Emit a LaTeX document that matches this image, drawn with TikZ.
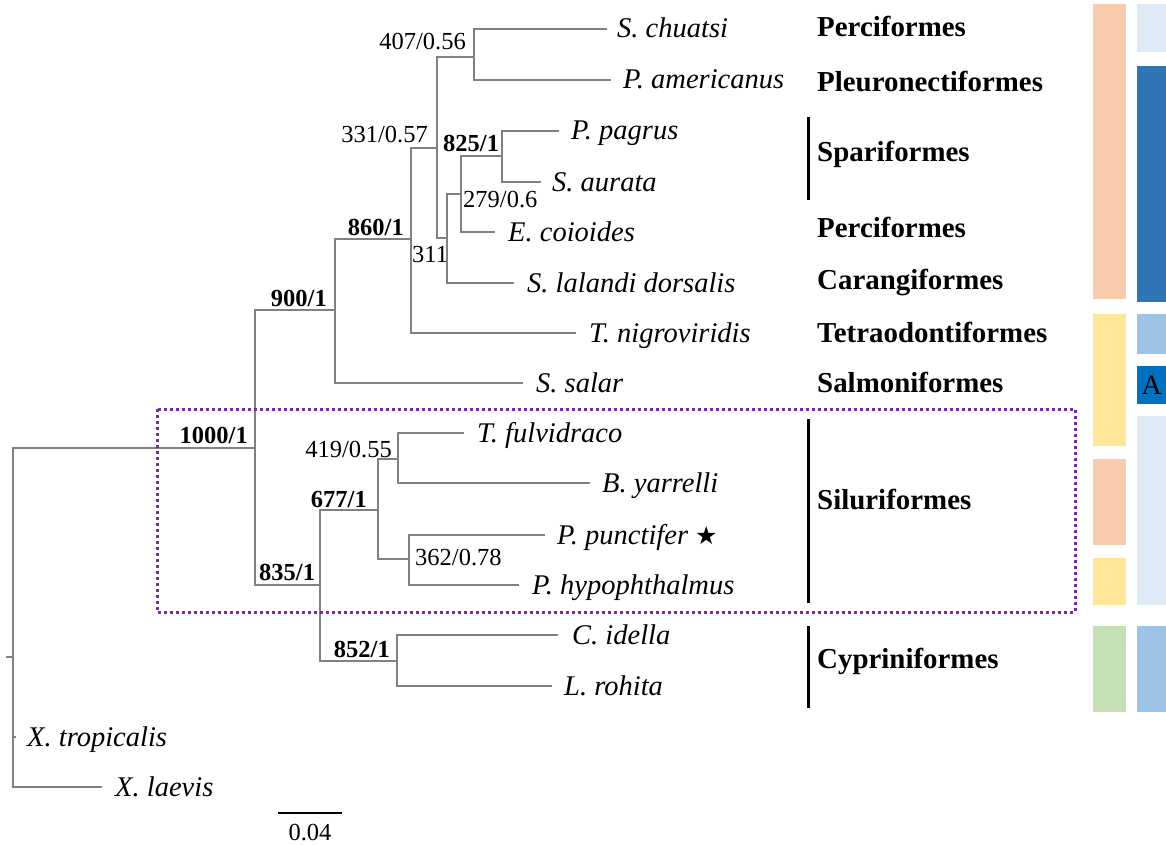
\documentclass[tikz,border=0pt]{standalone}
\usepackage{fontspec}
\setmainfont{Liberation Serif}
\newfontfamily\symfont{DejaVu Sans}
\definecolor{branchgray}{RGB}{128,128,128}
\definecolor{boxpurple}{RGB}{112,48,160}
\definecolor{peach}{RGB}{248,203,173}
\definecolor{sand}{RGB}{255,230,153}
\definecolor{leafgreen}{RGB}{197,224,180}
\definecolor{paleblue}{RGB}{222,235,247}
\definecolor{deepblue}{RGB}{46,117,182}
\definecolor{midblue}{RGB}{157,195,230}
\definecolor{aboxblue}{RGB}{0,112,192}
\begin{document}
\begin{tikzpicture}[x=1pt,y=-1pt,
  branch/.style={draw=branchgray, line width=1.8pt, line cap=rect},
  sp/.style={anchor=base west, inner sep=0pt, font=\fontsize{28.5}{30}\selectfont\itshape},
  ord/.style={anchor=base west, inner sep=0pt, font=\fontsize{28.9}{30}\selectfont\bfseries},
  suplab/.style={inner sep=0pt, font=\fontsize{24.5}{26}\selectfont},
  bsuplab/.style={inner sep=0pt, font=\fontsize{24.5}{26}\selectfont\bfseries},
  bracket/.style={draw=black, line width=3pt},
  bar/.style={draw=none}]
\useasboundingbox (0,0) rectangle (1166,845);

% internal nodes
\coordinate (root) at (13,657);
\coordinate (rootstub) at (7,657);
\coordinate (F) at (255,448);
\coordinate (N900) at (335,310);
\coordinate (N860) at (411,239);
\coordinate (N331) at (437,148);
\coordinate (N407) at (474,57);
\coordinate (N311) at (447,238);
\coordinate (N279) at (461,194);
\coordinate (N825) at (502,156);
\coordinate (N835) at (320,585);
\coordinate (N677) at (378,510);
\coordinate (N419) at (398,459);
\coordinate (N362) at (409,559);
\coordinate (N852) at (397,661);
% tips
\coordinate (tSchu) at (606,29);
\coordinate (tPame) at (610,80);
\coordinate (tPpag) at (558,131);
\coordinate (tSaur) at (540,182);
\coordinate (tEcoi) at (494,232);
\coordinate (tSlal) at (513,283);
\coordinate (tTnig) at (575,333);
\coordinate (tSsal) at (522,383);
\coordinate (tTful) at (463,433);
\coordinate (tByar) at (589,483);
\coordinate (tPpun) at (544,535);
\coordinate (tPhyp) at (518,585);
\coordinate (tCide) at (557,635);
\coordinate (tLroh) at (551,686);
\coordinate (tXtro) at (15,737);
\coordinate (tXlae) at (101,787);

% branches
\draw[branch] (rootstub) -- (root);
\draw[branch] (root) |- (F);
\draw[branch] (root) |- (tXtro);
\draw[branch] (root) |- (tXlae);
\draw[branch] (F) |- (N900);
\draw[branch] (F) |- (N835);
\draw[branch] (N900) |- (N860);
\draw[branch] (N900) |- (tSsal);
\draw[branch] (N860) |- (N331);
\draw[branch] (N860) |- (tTnig);
\draw[branch] (N331) |- (N407);
\draw[branch] (N331) |- (N311);
\draw[branch] (N407) |- (tSchu);
\draw[branch] (N407) |- (tPame);
\draw[branch] (N311) |- (N279);
\draw[branch] (N311) |- (tSlal);
\draw[branch] (N279) |- (N825);
\draw[branch] (N279) |- (tEcoi);
\draw[branch] (N825) |- (tPpag);
\draw[branch] (N825) |- (tSaur);
\draw[branch] (N835) |- (N677);
\draw[branch] (N835) |- (N852);
\draw[branch] (N677) |- (N419);
\draw[branch] (N677) |- (N362);
\draw[branch] (N419) |- (tTful);
\draw[branch] (N419) |- (tByar);
\draw[branch] (N362) |- (tPpun);
\draw[branch] (N362) |- (tPhyp);
\draw[branch] (N852) |- (tCide);
\draw[branch] (N852) |- (tLroh);

% support values
\node[suplab, anchor=base east] (s407) at (466,50) {407/0.56};
\node[suplab, anchor=base east] (s331) at (428,143) {331/0.57};
\node[bsuplab, anchor=base west] (s825) at (443,152) {825/1};
\node[suplab, anchor=base west] (s279) at (463,207) {279/0.6};
\node[suplab, anchor=base west] (s311) at (412,262) {311};
\node[bsuplab, anchor=base east] (s860) at (404,235) {860/1};
\node[bsuplab, anchor=base east] (s900) at (327,306) {900/1};
\node[bsuplab, anchor=base east] (s1000) at (248,443) {1000/1};
\node[bsuplab, anchor=base west] (s835) at (259,580) {835/1};
\node[bsuplab, anchor=base east] (s677) at (367,507) {677/1};
\node[suplab, anchor=base east] (s419) at (392,457) {419/0.55};
\node[suplab, anchor=base west] (s362) at (415,565) {362/0.78};
\node[bsuplab, anchor=base east] (s852) at (390,657) {852/1};

% species labels
\node[sp] (lSchu) at (617,38) {S. chuatsi};
\node[sp] (lPame) at (623,89) {P. americanus};
\node[sp] (lPpag) at (571,140) {P. pagrus};
\node[sp] (lSaur) at (552,191) {S. aurata};
\node[sp] (lEcoi) at (508,241) {E. coioides};
\node[sp] (lSlal) at (527,292) {S. lalandi dorsalis};
\node[sp] (lTnig) at (589,342) {T. nigroviridis};
\node[sp] (lSsal) at (536,392) {S. salar};
\node[sp] (lTful) at (477,442) {T. fulvidraco};
\node[sp] (lByar) at (602,492) {B. yarrelli};
\node[sp] (lPpun) at (557,544) {P. punctifer {\upshape\symfont\fontsize{25}{26}\selectfont ★}};
\node[sp] (lPhyp) at (532,594) {P. hypophthalmus};
\node[sp] (lCide) at (572,644) {C. idella};
\node[sp] (lLroh) at (564,695) {L. rohita};
\node[sp] (lXtro) at (27,746) {X. tropicalis};
\node[sp] (lXlae) at (115,796) {X. laevis};

% highlight box
\draw[draw=boxpurple, line width=3pt, dash pattern=on 3pt off 3pt] (157,409) rectangle (1075,612);

% brackets
\coordinate (bSpA) at (808,117); \coordinate (bSpB) at (808,200);
\coordinate (bSiA) at (808,419); \coordinate (bSiB) at (808,603);
\coordinate (bCyA) at (808,626); \coordinate (bCyB) at (808,708);
\draw[bracket] (bSpA) -- (bSpB);
\draw[bracket] (bSiA) -- (bSiB);
\draw[bracket] (bCyA) -- (bCyB);

% order labels
\node[ord] (oPer1) at (817,37) {Perciformes};
\node[ord] (oPle) at (817,92) {Pleuronectiformes};
\node[ord] (oSpa) at (817,162) {Spariformes};
\node[ord] (oPer2) at (817,237) {Perciformes};
\node[ord] (oCar) at (817,289) {Carangiformes};
\node[ord] (oTet) at (817,342) {Tetraodontiformes};
\node[ord] (oSal) at (817,392) {Salmoniformes};
\node[ord] (oSil) at (817,509) {Siluriformes};
\node[ord] (oCyp) at (817,668) {Cypriniformes};

% colour bars, column 1
\fill[peach] (1093,4) rectangle (1126,299);
\fill[sand] (1093,314) rectangle (1126,446);
\fill[peach] (1093,459) rectangle (1126,545);
\fill[sand] (1093,558) rectangle (1126,605);
\fill[leafgreen] (1093,626) rectangle (1126,712);
% colour bars, column 2
\fill[paleblue] (1137,4) rectangle (1166,52);
\fill[deepblue] (1137,66) rectangle (1166,302);
\fill[midblue] (1137,314) rectangle (1166,354);
\node[fill=aboxblue, minimum width=29pt, minimum height=38pt, inner sep=0pt, anchor=north west,
      font=\fontsize{28}{30}\selectfont] (abox) at (1137,366) {A};
\fill[paleblue] (1137,416) rectangle (1166,605);
\fill[midblue] (1137,626) rectangle (1166,712);

% scale bar
\coordinate (scA) at (278,813); \coordinate (scB) at (342,813);
\draw[black, line width=2pt] (scA) -- (scB);
\node[suplab, anchor=base] (sclab) at (310,840) {0.04};
\end{tikzpicture}
\end{document}
